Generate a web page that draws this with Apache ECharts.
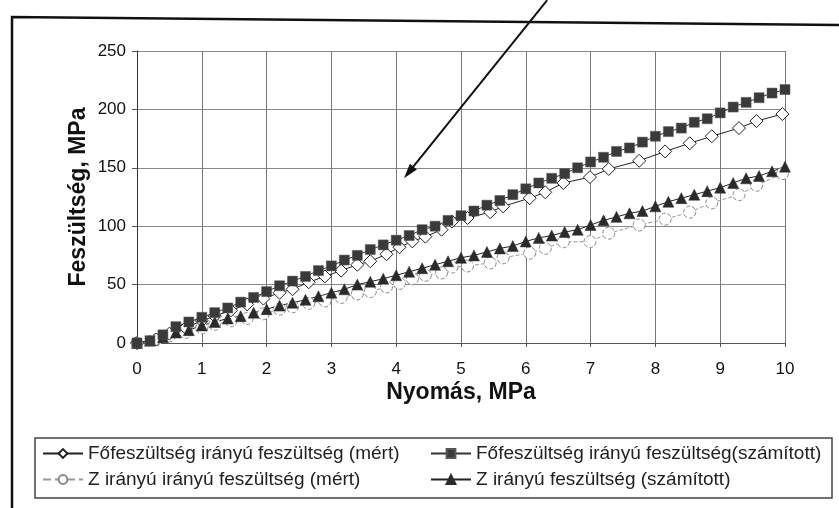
<!DOCTYPE html>
<html>
<head>
<meta charset="utf-8">
<script src="https://cdn.jsdelivr.net/npm/echarts@6/dist/echarts.min.js"></script>
<style>
html,body{margin:0;padding:0;background:#fff;}
#chart{width:839px;height:508px;}
</style>
</head>
<body>
<div id="chart"></div>
<script>
// ---- data ----
const seriesNames = [
  'Főfeszültség irányú feszültség (mért)',
  'Főfeszültség irányú feszültség(számított)',
  'Z irányú irányú feszültség (mért)',
  'Z irányú feszültség (számított)'
];
const xTicks = [0,1,2,3,4,5,6,7,8,9,10];
const yTicks = [0,50,100,150,200,250];

const pressureCalc = [0,0.2,0.4,0.6,0.8,1.0,1.2,1.4,1.6,1.8,2.0,2.2,2.4,2.6,2.8,3.0,3.2,3.4,3.6,3.8,
  4.0,4.2,4.4,4.6,4.8,5.0,5.2,5.4,5.6,5.8,6.0,6.2,6.4,6.6,6.8,7.0,7.2,7.4,7.6,7.8,
  8.0,8.2,8.4,8.6,8.8,9.0,9.2,9.4,9.6,9.8,10.0];
const mainCalc = [0,2,7,14,18,22,26,30,35,39,44,49,53,57,62,66,71,75,80,84,
  88,92,97,100,105,109,113,118,122,127,132,137,141,145,150,155,159,164,167,172,
  177,181,184,189,192,197,202,206,210,214,217];
const zCalc = [0,2,5,9,11,15,18,21,23,26,29,32,34.5,37,40,43,46,50,52.5,55,
  58,61,64,67,70,73,75,78,81,83,87,90,92,95,97,101,105,108,111,113,
  117,121,124,127,130,133,137,141,143,147,151];

const pressureMeas = [0,0.3,0.5,0.75,1.0,1.2,1.45,1.7,1.95,2.2,2.4,2.65,2.9,3.15,3.4,3.6,3.85,4.05,4.25,4.45,
  4.7,4.86,5.1,5.45,5.65,6.06,6.3,6.58,6.99,7.28,7.75,8.15,8.53,8.87,9.29,9.56,9.96];
const mainMeas = [0,3,8,13,19,23,28,33,38,43,46,52,57,62,67,70,76,82,87,91,
  97,104,107,112,117,124,129,137,142,149,156,164,171,177,184,190,196];
const zMeas = [0,3,6,9,13,16,19,21,25,29,31,34,36,39,42,44,48,51,55,58,
  60,65,66,68.5,73,77,81,86.7,86.7,94,101,106,112,120,127,135,145];

// annotation arrow (data coordinates): from above plot down to tip
const arrowFrom = [6.33, 293.5];
const arrowTo = [4.12, 141];

// ---- chart ----
const FONT = '"Liberation Sans", Arial, sans-serif';
const pair = (xs, ys) => xs.map((x, i) => [x, ys[i]]);

const chart = echarts.init(document.getElementById('chart'), null, {renderer: 'canvas'});

function legendAt(name, left, top) {
  return {
    data: [name], left: left, top: top, padding: 0,
    itemWidth: 40, itemHeight: 11, itemGap: 0,
    textStyle: {fontSize: 19, color: '#222', fontFamily: FONT}
  };
}

const option = {
  backgroundColor: '#fff',
  animation: false,
  grid: {left: 137, right: 54, top: 51, bottom: 165},
  xAxis: {
    type: 'value', min: xTicks[0], max: xTicks[xTicks.length-1], interval: 1,
    name: 'Nyomás, MPa', nameLocation: 'middle', nameGap: 38, nameMoveOverlap: false,
    nameTextStyle: {fontSize: 23, fontWeight: 'bold', color: '#111', fontFamily: FONT},
    axisLine: {show: true, lineStyle: {color: '#555', width: 1}},
    axisTick: {show: true, length: 4, lineStyle: {color: '#555'}},
    axisLabel: {fontSize: 17, color: '#111', margin: 18, fontFamily: FONT},
    splitLine: {show: true, lineStyle: {color: '#777', width: 1}}
  },
  yAxis: {
    type: 'value', min: yTicks[0], max: yTicks[yTicks.length-1], interval: 50,
    name: 'Feszültség, MPa', nameLocation: 'middle', nameGap: 47, nameMoveOverlap: false,
    nameTextStyle: {fontSize: 23, fontWeight: 'bold', color: '#111', fontFamily: FONT},
    axisLine: {show: true, lineStyle: {color: '#333', width: 1}},
    axisTick: {show: true, length: 5, lineStyle: {color: '#555'}},
    axisLabel: {fontSize: 17, color: '#111', margin: 11, fontFamily: FONT},
    splitLine: {show: true, lineStyle: {color: '#888', width: 1}}
  },
  legend: [
    legendAt(seriesNames[0], 42, 444),
    legendAt(seriesNames[1], 430, 444),
    legendAt(seriesNames[2], 42, 470),
    legendAt(seriesNames[3], 430, 470)
  ],
  series: [
    {
      name: seriesNames[2], type: 'line', data: pair(pressureMeas, zMeas),
      symbol: 'circle', symbolSize: 12,
      lineStyle: {color: '#999', width: 1, type: 'dashed'},
      itemStyle: {color: '#fff', borderColor: '#888', borderWidth: 1, borderType: 'dashed'}
    },
    {
      name: seriesNames[0], type: 'line', data: pair(pressureMeas, mainMeas),
      symbol: 'diamond', symbolSize: 13,
      lineStyle: {color: '#222', width: 1},
      itemStyle: {color: '#fff', borderColor: '#222', borderWidth: 1}
    },
    {
      name: seriesNames[3], type: 'line', data: pair(pressureCalc, zCalc),
      symbol: 'triangle', symbolSize: 11,
      lineStyle: {color: '#222', width: 1},
      itemStyle: {color: '#2a2a2a', borderColor: '#2a2a2a', borderWidth: 0.5}
    },
    {
      name: seriesNames[1], type: 'line', data: pair(pressureCalc, mainCalc),
      symbol: 'rect', symbolSize: 10,
      lineStyle: {color: '#333', width: 1},
      itemStyle: {color: '#3a3a3a', borderColor: '#555', borderWidth: 0.5}
    }
  ]
};
chart.setOption(option);

// annotation arrow + frames
const p0 = chart.convertToPixel({gridIndex: 0}, arrowFrom);
const p1 = chart.convertToPixel({gridIndex: 0}, arrowTo);
const dx = p1[0] - p0[0], dy = p1[1] - p0[1];
const len = Math.sqrt(dx*dx + dy*dy);
const ux = dx/len, uy = dy/len;
const hl = 15, hw = 4.5;
const bx = p1[0] - ux*hl, by = p1[1] - uy*hl;
chart.setOption({
  graphic: [
    {type: 'polyline', silent: true, z: 100,
      shape: {points: [[12, 508], [12, 17], [839, 25]]},
      style: {stroke: '#111', lineWidth: 2.5, fill: null}},
    {type: 'rect', silent: true, z: 100,
      shape: {x: 35, y: 438, width: 797, height: 60},
      style: {stroke: '#444', lineWidth: 1.5, fill: null}},
    {type: 'line', silent: true, z: 100,
      shape: {x1: p0[0], y1: p0[1], x2: bx + ux*3, y2: by + uy*3},
      style: {stroke: '#111', lineWidth: 2}},
    {type: 'polygon', silent: true, z: 100,
      shape: {points: [[p1[0], p1[1]], [bx - uy*hw, by + ux*hw], [bx + uy*hw, by - ux*hw]]},
      style: {fill: '#111'}}
  ]
});
</script>
</body>
</html>
